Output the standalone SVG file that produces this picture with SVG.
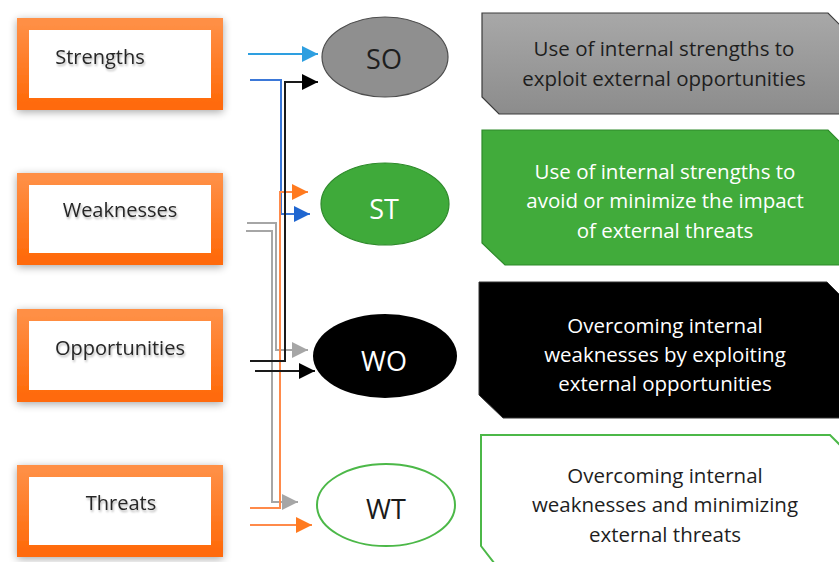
<svg xmlns="http://www.w3.org/2000/svg" width="839" height="562" viewBox="0 0 839 562">
<defs>
<linearGradient id="og" x1="0" y1="0" x2="0" y2="1">
<stop offset="0" stop-color="#ff8f45"/>
<stop offset="1" stop-color="#ff6a0a"/>
</linearGradient>
<linearGradient id="gg" x1="0" y1="0" x2="0" y2="1">
<stop offset="0" stop-color="#a8a8a8"/>
<stop offset="1" stop-color="#8c8c8c"/>
</linearGradient>
<filter id="sh" x="-20%" y="-30%" width="140%" height="160%">
<feGaussianBlur in="SourceAlpha" stdDeviation="4"/>
<feOffset dx="0" dy="2" result="b"/>
<feComponentTransfer><feFuncA type="linear" slope="0.35"/></feComponentTransfer>
<feMerge><feMergeNode/><feMergeNode in="SourceGraphic"/></feMerge>
</filter>
<filter id="ts" x="-10%" y="-30%" width="120%" height="160%">
<feGaussianBlur in="SourceAlpha" stdDeviation="1.2"/>
<feOffset dx="1" dy="1.5"/>
<feComponentTransfer><feFuncA type="linear" slope="0.3"/></feComponentTransfer>
<feMerge><feMergeNode/><feMergeNode in="SourceGraphic"/></feMerge>
</filter>
<marker id="aLB" viewBox="0 0 10 10" refX="10" refY="5" markerWidth="8" markerHeight="8" orient="auto" markerUnits="strokeWidth"><path d="M0,0 L10,5 L0,10 z" fill="#2e9fe0"/></marker>
<marker id="aB" viewBox="0 0 10 10" refX="10" refY="5" markerWidth="8" markerHeight="8" orient="auto" markerUnits="strokeWidth"><path d="M0,0 L10,5 L0,10 z" fill="#1f66d0"/></marker>
<marker id="aK" viewBox="0 0 10 10" refX="10" refY="5" markerWidth="8" markerHeight="8" orient="auto" markerUnits="strokeWidth"><path d="M0,0 L10,5 L0,10 z" fill="#000"/></marker>
<marker id="aO" viewBox="0 0 10 10" refX="10" refY="5" markerWidth="8" markerHeight="8" orient="auto" markerUnits="strokeWidth"><path d="M0,0 L10,5 L0,10 z" fill="#ff7a1f"/></marker>
<marker id="aG" viewBox="0 0 10 10" refX="10" refY="5" markerWidth="8" markerHeight="8" orient="auto" markerUnits="strokeWidth"><path d="M0,0 L10,5 L0,10 z" fill="#a6a6a6"/></marker>
</defs>
<style>
.ob{fill:#fff;stroke:url(#og);stroke-width:12;filter:url(#sh)}
.lt{font-family:"Open Sans","Liberation Sans",sans-serif;font-size:20px;fill:#262626;text-anchor:middle;filter:url(#ts)}
.el{font-family:"Open Sans","Liberation Sans",sans-serif;font-size:27px;text-anchor:middle}
.bt{font-family:"Open Sans","Liberation Sans",sans-serif;font-size:20.5px;text-anchor:middle}
.c{fill:none;stroke-width:2}
</style>
<rect width="839" height="562" fill="#fff"/>

<g id="strengths"><rect class="ob" x="23" y="24" width="194" height="80"/><text class="lt" x="100" y="64">Strengths</text></g>
<g id="weaknesses"><rect class="ob" x="23" y="179" width="194" height="80"/><text class="lt" x="120" y="217">Weaknesses</text></g>
<g id="opportunities"><rect class="ob" x="23" y="315" width="194" height="81"/><text class="lt" x="120" y="355">Opportunities</text></g>
<g id="threats"><rect class="ob" x="23" y="471" width="194" height="80"/><text class="lt" x="121" y="510">Threats</text></g>

<g id="connectors">
<path class="c" d="M248,54 H318" stroke="#2e9fe0" marker-end="url(#aLB)"/>
<path class="c" d="M250,80 H281 V214 H310" stroke="#3b78d8" marker-end="url(#aB)"/>
<path class="c" d="M247,223 H276 V350 H308" stroke="#a6a6a6" marker-end="url(#aG)"/>
<path class="c" d="M246,231 H272 V502 H298" stroke="#a6a6a6" marker-end="url(#aG)"/>
<path class="c" d="M250,508 H280 V192 H308" stroke="#ff8a4a" marker-end="url(#aO)"/>
<path class="c" d="M250,361 H285 V82 H318" stroke="#1a1a1a" marker-end="url(#aK)"/>
<path class="c" d="M255,371 H315" stroke="#1a1a1a" marker-end="url(#aK)"/>
<path class="c" d="M250,525 H312" stroke="#ff8a4a" marker-end="url(#aO)"/>
</g>

<g id="SO"><ellipse cx="385" cy="57" rx="63" ry="40" fill="#8f8f8f" stroke="#4d4d4d" stroke-width="1.2"/><text class="el" x="384" y="69" fill="#1e1e1e">SO</text></g>
<g id="ST"><ellipse cx="385" cy="204" rx="64" ry="41" fill="#3faa3a" stroke="#2e8a2b" stroke-width="1.2"/><text class="el" x="384" y="219" fill="#fff">ST</text></g>
<g id="WO"><ellipse cx="385" cy="356" rx="72" ry="42" fill="#000"/><text class="el" x="384" y="371" fill="#fff">WO</text></g>
<g id="WT"><ellipse cx="386" cy="505" rx="69" ry="41" fill="#fff" stroke="#4cb848" stroke-width="2"/><text class="el" x="386" y="519" fill="#1a1a1a">WT</text></g>

<g id="box-so"><path d="M482,13 H828 L852,37 V114 H499 L482,97 Z" fill="url(#gg)" stroke="#3c3c3c" stroke-width="1.2"/>
<text class="bt" fill="#1e1e1e"><tspan x="664" y="56">Use of internal strengths to</tspan><tspan x="664" y="86">exploit external opportunities</tspan></text></g>
<g id="box-st"><path d="M482,130 H828 L852,154 V265 H505 L482,243 Z" fill="#41ab3b" stroke="#2e8a2b" stroke-width="1.2"/>
<text class="bt" fill="#fff"><tspan x="665" y="179">Use of internal strengths to</tspan><tspan x="665" y="208">avoid or minimize the impact</tspan><tspan x="665" y="238">of external threats</tspan></text></g>
<g id="box-wo"><path d="M479,282 H827 L852,307 V418 H503 L479,395 Z" fill="#000" stroke="#333" stroke-width="1"/>
<text class="bt" fill="#fff"><tspan x="665" y="333">Overcoming internal</tspan><tspan x="665" y="362">weaknesses by exploiting</tspan><tspan x="665" y="391">external opportunities</tspan></text></g>
<g id="box-wt"><path d="M481,435 H830 L852,457 V590 H515 L481,546 Z" fill="#fff" stroke="#4cb848" stroke-width="2"/>
<text class="bt" fill="#1e1e1e"><tspan x="665" y="483">Overcoming internal</tspan><tspan x="665" y="512">weaknesses and minimizing</tspan><tspan x="665" y="542">external threats</tspan></text></g>
</svg>
